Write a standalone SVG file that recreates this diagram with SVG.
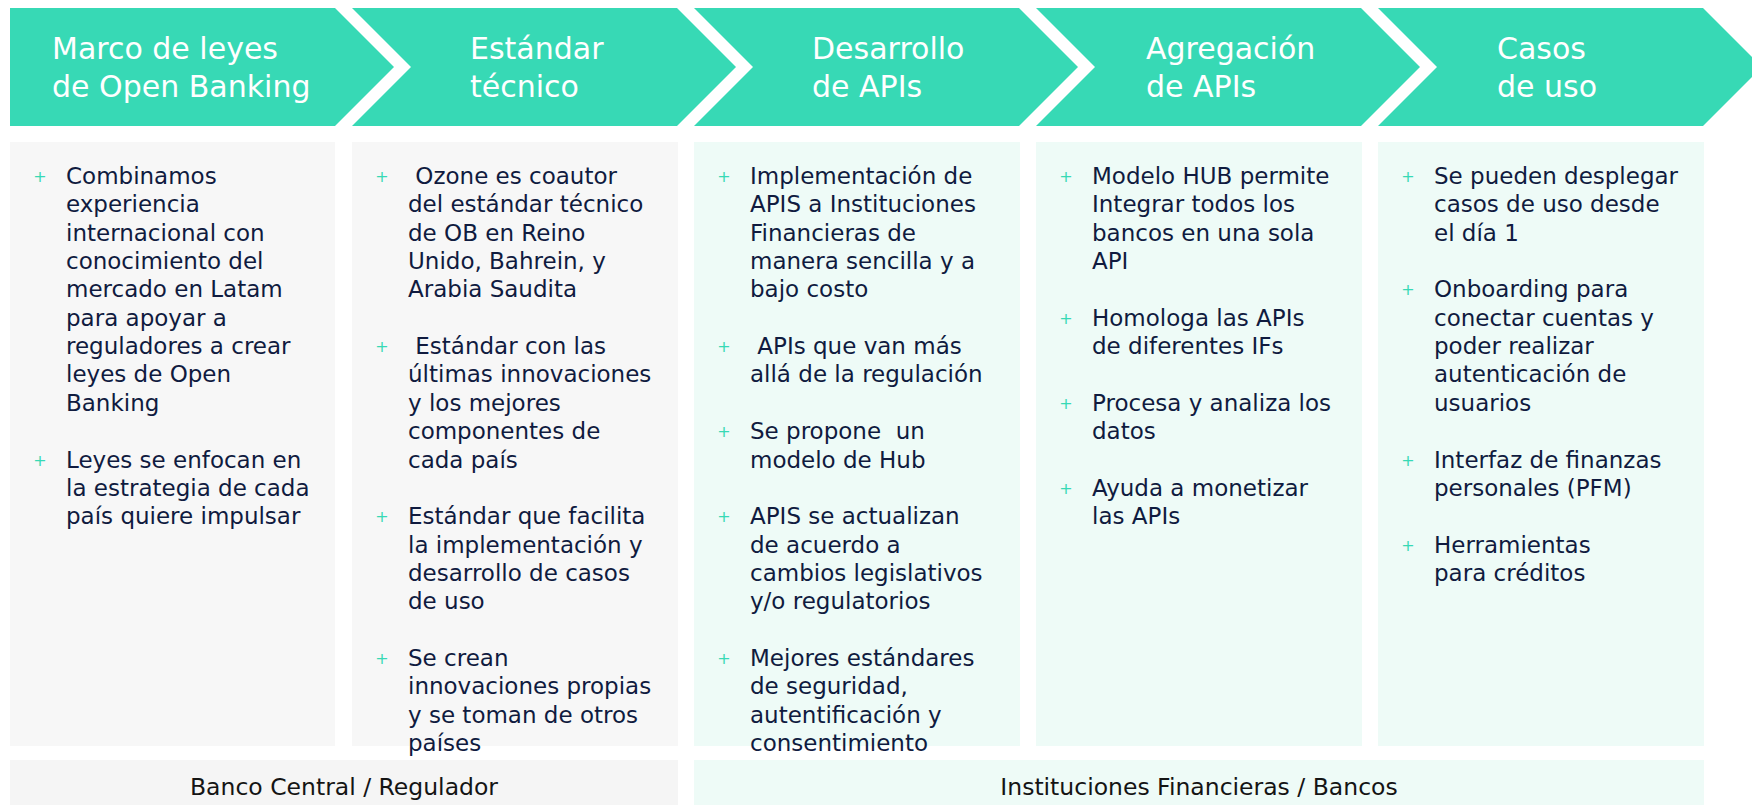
<svg xmlns="http://www.w3.org/2000/svg" width="1752" height="807" viewBox="0 0 1752 807">
<style>
.chev{fill:#37D9B5}
.hd{font-family:"DejaVu Sans","Liberation Sans",sans-serif;font-size:30px;fill:#FFFFFF}
.pg{fill:#F7F7F7}
.pm{fill:#EEFBF7}
.bd{font-family:"DejaVu Sans","Liberation Sans",sans-serif;font-size:23px;fill:#101B3F}
.pl{font-family:"DejaVu Sans","Liberation Sans",sans-serif;font-size:16px;fill:#37D9B5;text-anchor:middle}
.bt{font-family:"DejaVu Sans","Liberation Sans",sans-serif;font-size:23.5px;fill:#141414;text-anchor:middle}
</style>
<rect width="1752" height="807" fill="#FFFFFF"/>

<g id="header-1">
<polygon class="chev" points="10,8 335,8 394,67 335,126 10,126"/>
<text class="hd"><tspan x="52" y="59">Marco de leyes</tspan><tspan x="52" y="97">de Open Banking</tspan></text>
</g>
<g id="header-2">
<polygon class="chev" points="352,8 677,8 736,67 677,126 352,126 411,67"/>
<text class="hd"><tspan x="470" y="59">Estándar</tspan><tspan x="470" y="97">técnico</tspan></text>
</g>
<g id="header-3">
<polygon class="chev" points="694,8 1019,8 1078,67 1019,126 694,126 753,67"/>
<text class="hd"><tspan x="812" y="59">Desarrollo</tspan><tspan x="812" y="97">de APIs</tspan></text>
</g>
<g id="header-4">
<polygon class="chev" points="1036,8 1361,8 1420,67 1361,126 1036,126 1095,67"/>
<text class="hd"><tspan x="1146" y="59">Agregación</tspan><tspan x="1146" y="97">de APIs</tspan></text>
</g>
<g id="header-5">
<polygon class="chev" points="1378,8 1703,8 1762,67 1703,126 1378,126 1437,67"/>
<text class="hd"><tspan x="1497" y="59">Casos</tspan><tspan x="1497" y="97">de uso</tspan></text>
</g>

<g id="panel-1">
<rect class="pg" x="10" y="142" width="325" height="604"/>
<text class="pl" x="40" y="182">+</text>
<text class="bd"><tspan x="66" y="184">Combinamos</tspan><tspan x="66" y="212.35">experiencia</tspan><tspan x="66" y="240.7">internacional con</tspan><tspan x="66" y="269.05">conocimiento del</tspan><tspan x="66" y="297.4">mercado en Latam</tspan><tspan x="66" y="325.75">para apoyar a</tspan><tspan x="66" y="354.1">reguladores a crear</tspan><tspan x="66" y="382.45">leyes de Open</tspan><tspan x="66" y="410.8">Banking</tspan></text>
<text class="pl" x="40" y="465.5">+</text>
<text class="bd"><tspan x="66" y="467.5">Leyes se enfocan en</tspan><tspan x="66" y="495.85">la estrategia de cada</tspan><tspan x="66" y="524.2">país quiere impulsar</tspan></text>
</g>

<g id="panel-2">
<rect class="pg" x="352" y="142" width="326" height="604"/>
<text class="pl" x="382" y="182">+</text>
<text class="bd" xml:space="preserve"><tspan x="408" y="184"> Ozone es coautor</tspan><tspan x="408" y="212.35">del estándar técnico</tspan><tspan x="408" y="240.7">de OB en Reino</tspan><tspan x="408" y="269.05">Unido, Bahrein, y</tspan><tspan x="408" y="297.4">Arabia Saudita</tspan></text>
<text class="pl" x="382" y="352.1">+</text>
<text class="bd" xml:space="preserve"><tspan x="408" y="354.1"> Estándar con las</tspan><tspan x="408" y="382.45">últimas innovaciones</tspan><tspan x="408" y="410.8">y los mejores</tspan><tspan x="408" y="439.15">componentes de</tspan><tspan x="408" y="467.5">cada país</tspan></text>
<text class="pl" x="382" y="522.2">+</text>
<text class="bd"><tspan x="408" y="524.2">Estándar que facilita</tspan><tspan x="408" y="552.55">la implementación y</tspan><tspan x="408" y="580.9">desarrollo de casos</tspan><tspan x="408" y="609.25">de uso</tspan></text>
<text class="pl" x="382" y="663.95">+</text>
<text class="bd"><tspan x="408" y="665.95">Se crean</tspan><tspan x="408" y="694.3">innovaciones propias</tspan><tspan x="408" y="722.65">y se toman de otros</tspan><tspan x="408" y="751">países</tspan></text>
</g>

<g id="panel-3">
<rect class="pm" x="694" y="142" width="326" height="604"/>
<text class="pl" x="724" y="182">+</text>
<text class="bd"><tspan x="750" y="184">Implementación de</tspan><tspan x="750" y="212.35">APIS a Instituciones</tspan><tspan x="750" y="240.7">Financieras de</tspan><tspan x="750" y="269.05">manera sencilla y a</tspan><tspan x="750" y="297.4">bajo costo</tspan></text>
<text class="pl" x="724" y="352.1">+</text>
<text class="bd" xml:space="preserve"><tspan x="750" y="354.1"> APIs que van más</tspan><tspan x="750" y="382.45">allá de la regulación</tspan></text>
<text class="pl" x="724" y="437.15">+</text>
<text class="bd" xml:space="preserve"><tspan x="750" y="439.15">Se propone  un</tspan><tspan x="750" y="467.5">modelo de Hub</tspan></text>
<text class="pl" x="724" y="522.2">+</text>
<text class="bd"><tspan x="750" y="524.2">APIS se actualizan</tspan><tspan x="750" y="552.55">de acuerdo a</tspan><tspan x="750" y="580.9">cambios legislativos</tspan><tspan x="750" y="609.25">y/o regulatorios</tspan></text>
<text class="pl" x="724" y="663.95">+</text>
<text class="bd"><tspan x="750" y="665.95">Mejores estándares</tspan><tspan x="750" y="694.3">de seguridad,</tspan><tspan x="750" y="722.65">autentificación y</tspan><tspan x="750" y="751">consentimiento</tspan></text>
</g>

<g id="panel-4">
<rect class="pm" x="1036" y="142" width="326" height="604"/>
<text class="pl" x="1066" y="182">+</text>
<text class="bd"><tspan x="1092" y="184">Modelo HUB permite</tspan><tspan x="1092" y="212.35">Integrar todos los</tspan><tspan x="1092" y="240.7">bancos en una sola</tspan><tspan x="1092" y="269.05">API</tspan></text>
<text class="pl" x="1066" y="323.75">+</text>
<text class="bd"><tspan x="1092" y="325.75">Homologa las APIs</tspan><tspan x="1092" y="354.1">de diferentes IFs</tspan></text>
<text class="pl" x="1066" y="408.8">+</text>
<text class="bd"><tspan x="1092" y="410.8">Procesa y analiza los</tspan><tspan x="1092" y="439.15">datos</tspan></text>
<text class="pl" x="1066" y="493.85">+</text>
<text class="bd"><tspan x="1092" y="495.85">Ayuda a monetizar</tspan><tspan x="1092" y="524.2">las APIs</tspan></text>
</g>

<g id="panel-5">
<rect class="pm" x="1378" y="142" width="326" height="604"/>
<text class="pl" x="1408" y="182">+</text>
<text class="bd"><tspan x="1434" y="184">Se pueden desplegar</tspan><tspan x="1434" y="212.35">casos de uso desde</tspan><tspan x="1434" y="240.7">el día 1</tspan></text>
<text class="pl" x="1408" y="295.4">+</text>
<text class="bd"><tspan x="1434" y="297.4">Onboarding para</tspan><tspan x="1434" y="325.75">conectar cuentas y</tspan><tspan x="1434" y="354.1">poder realizar</tspan><tspan x="1434" y="382.45">autenticación de</tspan><tspan x="1434" y="410.8">usuarios</tspan></text>
<text class="pl" x="1408" y="465.5">+</text>
<text class="bd"><tspan x="1434" y="467.5">Interfaz de finanzas</tspan><tspan x="1434" y="495.85">personales (PFM)</tspan></text>
<text class="pl" x="1408" y="550.55">+</text>
<text class="bd"><tspan x="1434" y="552.55">Herramientas</tspan><tspan x="1434" y="580.9">para créditos</tspan></text>
</g>

<g id="band-regulator">
<rect fill="#F5F5F5" x="10" y="760" width="668" height="45"/>
<text class="bt" x="344" y="795">Banco Central / Regulador</text>
</g>
<g id="band-banks">
<rect fill="#EEFBF7" x="694" y="760" width="1010" height="45"/>
<text class="bt" x="1199" y="795">Instituciones Financieras / Bancos</text>
</g>
<g id="connectors"></g>
</svg>
